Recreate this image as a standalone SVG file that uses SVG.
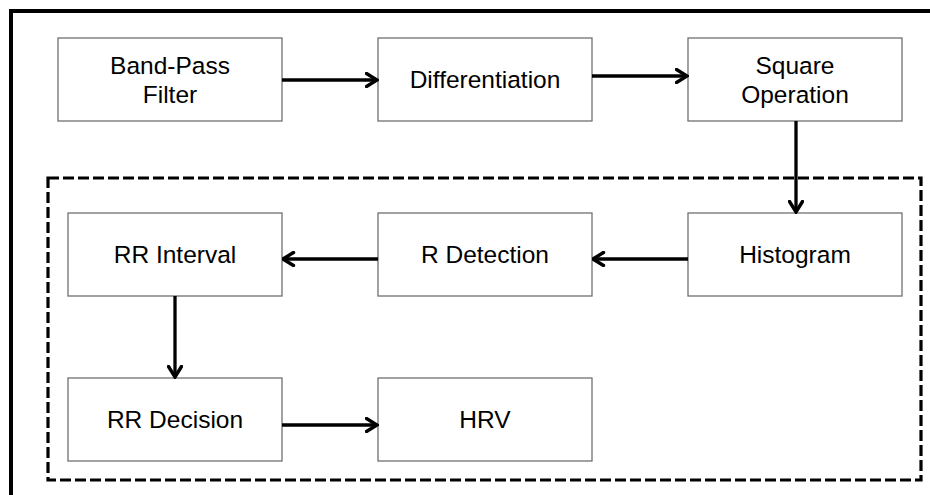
<svg xmlns="http://www.w3.org/2000/svg" width="930" height="495" viewBox="0 0 930 495">
<style>
.box{fill:#fff;stroke:#707070;stroke-width:1.3}
.t{font-family:"Liberation Sans",Arial,sans-serif;font-size:24.5px;fill:#000;text-anchor:middle}
.c{fill:none;stroke:#000;stroke-width:3.3}
</style>
<defs>
<marker id="ah" viewBox="0 0 14 16" refX="12.5" refY="8" markerWidth="14" markerHeight="16" markerUnits="userSpaceOnUse" orient="auto">
<path d="M2,1.5 L12.5,8 L2,14.5" fill="none" stroke="#000" stroke-width="3.4" stroke-linecap="round"/>
</marker>
</defs>
<rect width="930" height="495" fill="#fff"/>
<rect id="frame" x="11" y="11" width="940" height="520" fill="none" stroke="#000" stroke-width="4"/>
<rect id="group" x="48" y="178" width="873" height="302" fill="none" stroke="#000" stroke-width="3.2" stroke-dasharray="11,4"/>
<g id="bandpass"><rect class="box" x="58" y="38" width="224" height="83"/><text class="t" x="170" y="74">Band-Pass</text><text class="t" x="170" y="103">Filter</text></g>
<g id="differentiation"><rect class="box" x="378" y="38" width="214" height="83"/><text class="t" x="485" y="88">Differentiation</text></g>
<g id="square"><rect class="box" x="688" y="38" width="214" height="83"/><text class="t" x="795" y="74">Square</text><text class="t" x="795" y="103">Operation</text></g>
<g id="rrinterval"><rect class="box" x="68" y="213" width="214" height="83"/><text class="t" x="175" y="263">RR Interval</text></g>
<g id="rdetection"><rect class="box" x="378" y="213" width="214" height="83"/><text class="t" x="485" y="263">R Detection</text></g>
<g id="histogram"><rect class="box" x="688" y="213" width="214" height="83"/><text class="t" x="795" y="263">Histogram</text></g>
<g id="rrdecision"><rect class="box" x="68" y="378" width="214" height="83"/><text class="t" x="175" y="428">RR Decision</text></g>
<g id="hrv"><rect class="box" x="378" y="378" width="214" height="83"/><text class="t" x="485" y="428">HRV</text></g>
<g id="connectors">
<line class="c" x1="282" y1="80" x2="377" y2="80" marker-end="url(#ah)"/>
<line class="c" x1="592" y1="76" x2="687" y2="76" marker-end="url(#ah)"/>
<line class="c" x1="796" y1="121" x2="796" y2="212" marker-end="url(#ah)"/>
<line class="c" x1="688" y1="259" x2="593" y2="259" marker-end="url(#ah)"/>
<line class="c" x1="378" y1="259" x2="283" y2="259" marker-end="url(#ah)"/>
<line class="c" x1="175" y1="296" x2="175" y2="377" marker-end="url(#ah)"/>
<line class="c" x1="282" y1="425" x2="377" y2="425" marker-end="url(#ah)"/>
</g>
</svg>
